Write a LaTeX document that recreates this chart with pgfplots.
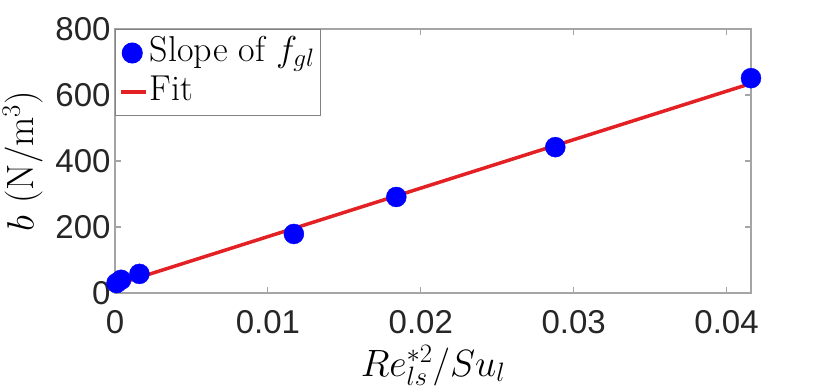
\documentclass[border=0pt]{standalone}
\usepackage{fix-cm}
\usepackage{fontspec}
\setsansfont{Liberation Sans}
\usepackage{pgfplots}
\pgfplotsset{compat=1.18}

\definecolor{fitred}{RGB}{227,32,35}
\definecolor{axgray}{RGB}{165,165,165}
\definecolor{leggray}{RGB}{130,130,130}
\definecolor{ticktext}{RGB}{38,38,38}

\pgfplotsset{
  dotlegend/.style={legend image code/.code={\draw[##1] plot coordinates {(11bp,0bp)};}},
  linelegend/.style={legend image code/.code={\draw[##1] (0bp,0bp) -- (25bp,0bp);}},
}

\begin{document}
\begin{tikzpicture}
\path[use as bounding box] (-115bp,-98bp) rectangle (715bp,293bp);
\begin{axis}[
  at={(0,0)}, anchor=south west,
  scale only axis, width=636bp, height=264bp,
  xmin=0, xmax=0.0416, ymin=0, ymax=800,
  xtick={0,0.01,0.02,0.03,0.04}, xticklabels={0,0.01,0.02,0.03,0.04},
  ytick={0,200,400,600,800},
  scaled x ticks=false,
  tick align=inside, major tick length=6bp,
  axis line style={axgray, line width=1.2bp},
  tick style={axgray, line width=1.2bp},
  ticklabel style={font=\sffamily\fontsize{33bp}{36bp}\selectfont, text=ticktext},
  xticklabel style={inner sep=0pt, yshift=-17bp},
  yticklabel style={xshift=-1bp},
  /pgf/number format/assume math mode=true,
  xlabel={$Re^{*2}_{ls}/Su_l$},
  xlabel style={font=\fontsize{38bp}{46bp}\selectfont, inner sep=0pt,
    at={(axis description cs:0.5,-0.315)}, anchor=base},
  ylabel={$b$ (N/m$^3$)},
  ylabel style={font=\fontsize{38bp}{44bp}\selectfont, inner sep=0pt,
    at={(axis description cs:-0.1447,0.5)}, anchor=center},
  clip=false,
  legend style={at={(0,1)}, anchor=north west, draw=leggray, line width=1bp,
    font=\fontsize{36bp}{42bp}\selectfont, inner sep=4bp, row sep=0bp,
    nodes={text height=26bp, text depth=9bp}},
  legend cell align=left,
]
\addplot[only marks, mark=*, mark size=10bp, blue, mark options={draw=blue, fill=blue}, dotlegend]
  coordinates {(0.0001,30) (0.0004,40) (0.0016,58) (0.0117,179) (0.0184,291) (0.0288,442) (0.0416,651)};
\addlegendentry{Slope of $f_{gl}$}
\addplot[fitred, line width=3.5bp, no marks, linelegend]
  coordinates {(0,24) (0.0416,635)};
\addlegendentry{Fit}
\end{axis}
\end{tikzpicture}
\end{document}
